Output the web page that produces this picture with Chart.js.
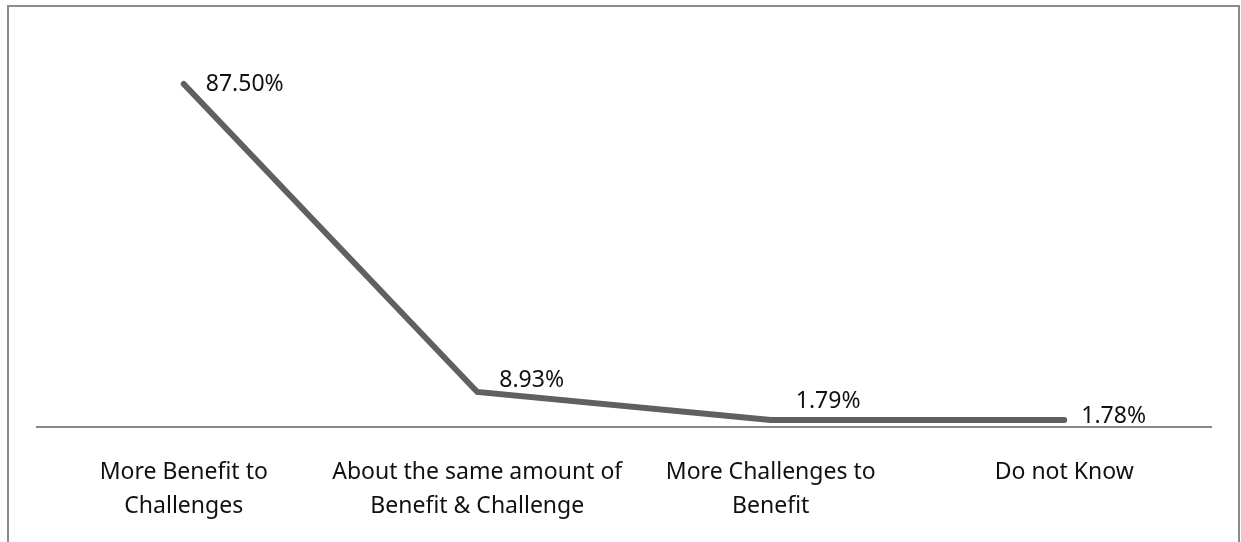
<!DOCTYPE html>
<html>

<head>
  <meta charset="utf-8">
  <title>Benefit vs Challenge</title>
  <style>
    body {
      margin: 0;
      background: #fff;
    }

    .frame {
      position: absolute;
      left: 7px;
      top: 5px;
      width: 1229px;
      height: 560px;
      border: 2px solid #8c8c8c;
    }

    #chart {
      position: absolute;
      left: 0;
      top: 0;
    }
  </style>
</head>

<body>
  <div class="frame"></div>
  <canvas id="chart" width="1241" height="542"></canvas>

  <script src="https://cdn.jsdelivr.net/npm/chart.js"></script>

  <script>
    const categories = [
      ['More Benefit to', 'Challenges'],
      ['About the same amount of', 'Benefit & Challenge'],
      ['More Challenges to', 'Benefit'],
      ['Do not Know']
    ];
    const percentages = [87.50, 8.93, 1.79, 1.78];

    const FONT = { family: '"Noto Sans", sans-serif', size: 23 };

    // draws the value labels next to each point (no datalabels plugin offline)
    const valueLabels = {
      id: 'valueLabels',
      afterDatasetsDraw(chart, args, opts) {
        const ctx = chart.ctx;
        const meta = chart.getDatasetMeta(0);
        ctx.save();
        ctx.font = `${FONT.size}px ${FONT.family}`;
        ctx.fillStyle = '#111';
        ctx.textAlign = 'left';
        ctx.textBaseline = 'middle';
        meta.data.forEach((pt, i) => {
          const off = opts.offsets[i] || [20, -8];
          const v = chart.data.datasets[0].data[i];
          ctx.fillText(v.toFixed(2) + '%', pt.x + off[0], pt.y + off[1]);
        });
        ctx.restore();
      }
    };

    new Chart(document.getElementById('chart'), {
      type: 'line',
      data: {
        labels: categories,
        datasets: [{
          data: percentages,
          borderColor: '#606060',
          borderWidth: 6,
          borderCapStyle: 'round',
          pointRadius: 0,
          tension: 0
        }]
      },
      options: {
        responsive: false,
        animation: false,
        devicePixelRatio: 1,
        layout: { padding: { left: 37, right: 30, top: 35, bottom: 0 } },
        plugins: {
          legend: { display: false },
          tooltip: { enabled: false },
          valueLabels: { offsets: [[22, 0], [22, -12], [25, -19], [17, -4]] }
        },
        scales: {
          x: {
            offset: true,
            grid: { display: false, drawTicks: false },
            border: { display: true, color: '#878787', width: 2 },
            ticks: {
              color: '#111',
              padding: 28,
              maxRotation: 0,
              autoSkip: false,
              font: { ...FONT, lineHeight: 1.48 }
            },
            afterFit(scale) { scale.height = 115; }
          },
          y: {
            display: false,
            min: 0,
            max: 100
          }
        }
      },
      plugins: [valueLabels]
    });
  </script>
</body>

</html>
